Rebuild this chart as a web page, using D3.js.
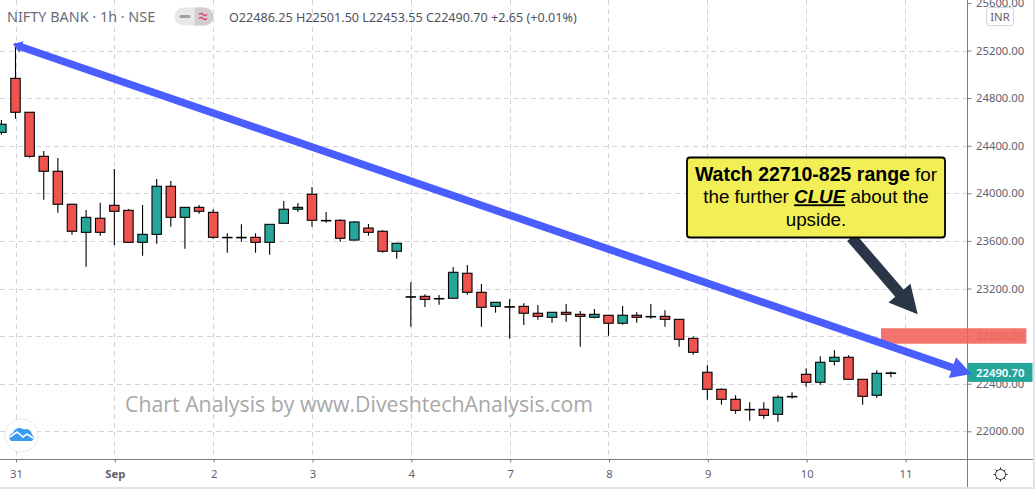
<!DOCTYPE html>
<html><head><meta charset="utf-8">
<script src="https://cdn.jsdelivr.net/npm/d3@7/dist/d3.min.js"></script>
<style>
html,body{margin:0;padding:0;background:#fff;overflow:hidden}
svg{display:block}
</style></head><body>
<svg id="c" width="1035" height="489" font-family="Noto Sans, sans-serif"></svg>
<script>
// ---- data (hourly candles, first one is bar -1) ----
const barIndex = d3.range(-1, 63);
const opens = [24512,24966,24681,24311,24185,23908,23672,23790,23899,23857,23588,23655,24059,23798,23882,23840,23630,23630,23630,23588,23748,23866,23992,23772,23773,23607,23708,23681,23513,23131,23134,23116,23118,23328,23168,23050,23047,23050,22992,22958,23000,22983,22958,22975,22908,22975,22965,22966,22941,22781,22496,22353,22269,22184,22185,22143,22293,22479,22412,22588,22622,22437,22303,22486.25];
const highs = [24616,25263,24681,24355,24297,23908,23860,23921,24204,23866,23902,24120,24103,23882,23902,23866,23664,23739,23664,23739,23935,23918,24053,23843,23781,23762,23742,23690,23580,23252,23151,23145,23381,23397,23238,23084,23112,23076,23061,23000,23070,23011,23028,22975,23053,23000,23070,23017,22941,22798,22555,22361,22303,22244,22244,22303,22328,22529,22630,22681,22639,22437,22513,22501.5];
const lows = [24492,24627,24299,23946,23837,23652,23383,23644,23566,23588,23476,23576,23719,23534,23828,23618,23501,23593,23501,23484,23748,23843,23719,23753,23593,23605,23644,23501,23450,22879,23045,23064,23118,23148,22879,22997,22778,22893,22938,22913,22921,22711,22950,22803,22896,22913,22946,22879,22711,22644,22266,22224,22148,22089,22106,22081,22274,22375,22392,22555,22437,22224,22282,22453.55];
const closes = [24580,24681,24311,24185,23908,23681,23798,23672,23849,23588,23655,24059,23798,23882,23849,23630,23626,23626,23588,23739,23866,23882,23773,23768,23622,23759,23672,23513,23580,23127,23109,23112,23336,23168,23042,23084,23043,22992,22966,23000,22983,22966,22983,22908,22975,22958,22961,22941,22773,22664,22353,22269,22176,22180,22134,22286,22289,22412,22580,22622,22437,22294,22487,22490.7];
const priceTicks = [22000,22400,22800,23200,23600,24000,24400,24800,25200,25600];
const dayTickBars = [0,7,14,21,28,35,42,49,56,63];
const dayTickLabels = ["31","Sep","2","3","4","7","8","9","10","11"];
const lastPrice = 22490.70;
const zoneBars = [61.3,71.6], zonePrices = [22866,22736];
const trendBars = [-0.18,67.7], trendPrices = [25254,22481];
const pointerBars = [59.2,63.9], pointerPrices = [23630,22983];
const legendText = "O22486.25 H22501.50 L22453.55 C22490.70 +2.65 (+0.01%)";

const svg = d3.select("#c");
const x = d3.scaleLinear().domain([0,63]).range([15.5,905]);
const y = d3.scaleLinear().domain([22000,25200]).range([431.3,50.5]);
const plotR = 967.5, plotB = 459.5;

svg.append("rect").attr("x",1033).attr("y",0).attr("width",2).attr("height",489).attr("fill","#e0e3eb");
svg.append("rect").attr("x",0).attr("y",487).attr("width",1035).attr("height",2).attr("fill","#e0e3eb");

// grid
const grid = svg.append("g");
grid.selectAll(".h").data(priceTicks.slice(0,-1)).join("line")
 .attr("x1",0).attr("x2",plotR).attr("y1",d=>Math.round(y(d))+.5).attr("y2",d=>Math.round(y(d))+.5);
grid.selectAll(".v").data(dayTickBars).join("line")
 .attr("y1",0).attr("y2",plotB).attr("x1",d=>Math.round(x(d))+.5).attr("x2",d=>Math.round(x(d))+.5);
grid.selectAll("line").attr("stroke","#d1d4dc").attr("stroke-dasharray","5,4").attr("stroke-width",1);

// candles
const bw = 9.4;
const candles = svg.append("g").selectAll("g").data(barIndex).join("g");
candles.append("line").attr("x1",i=>x(i)).attr("x2",i=>x(i))
 .attr("y1",i=>y(highs[i+1])).attr("y2",i=>y(lows[i+1])).attr("stroke","#000").attr("stroke-width",1.1);
candles.append("rect").attr("x",i=>x(i)-bw/2).attr("width",bw)
 .attr("y",i=>y(Math.max(opens[i+1],closes[i+1])))
 .attr("height",i=>Math.abs(y(opens[i+1])-y(closes[i+1])))
 .attr("fill",i=>closes[i+1]>opens[i+1]?"#26a69a":"#ef5350")
 .attr("stroke","#000").attr("stroke-width",1.1);

// axes
const yAxis = svg.append("g").attr("transform",`translate(${plotR},0)`)
 .call(d3.axisRight(y).tickValues(priceTicks).tickSize(4).tickPadding(4.5).tickFormat(d3.format(".2f")));
yAxis.attr("font-family",null).attr("font-size",null);
yAxis.select(".domain").remove();
yAxis.selectAll("line").attr("stroke","#787b86");
yAxis.selectAll("text").attr("fill","#5f6270").attr("font-size",11.3);

const xAxis = svg.append("g").attr("transform",`translate(0.5,${plotB})`)
 .call(d3.axisBottom(x).tickValues(dayTickBars).tickSize(3).tickPadding(7).tickFormat((d,i)=>dayTickLabels[i]));
xAxis.attr("font-family",null).attr("font-size",null);
xAxis.select(".domain").remove();
xAxis.selectAll("line").attr("stroke","#787b86");
xAxis.selectAll("text").attr("fill","#5f6270").attr("font-size",11.3)
 .attr("font-weight",(d,i)=>dayTickLabels[i]==="Sep"?700:400);
svg.append("line").attr("x1",0).attr("x2",1033).attr("y1",plotB).attr("y2",plotB).attr("stroke","#787b86");
svg.append("line").attr("x1",plotR).attr("x2",plotR).attr("y1",0).attr("y2",487).attr("stroke","#787b86");

// zone
svg.append("rect").attr("x",x(zoneBars[0])).attr("width",x(zoneBars[1])-x(zoneBars[0]))
 .attr("y",y(zonePrices[0])).attr("height",y(zonePrices[1])-y(zonePrices[0]))
 .attr("fill","#f2655c").attr("fill-opacity",.9);

// last price label
svg.append("rect").attr("x",plotR).attr("y",y(lastPrice)-10).attr("width",65).attr("height",19).attr("fill","#26a69a");
svg.append("text").attr("x",976).attr("y",y(lastPrice)+4).attr("fill","#fff").attr("font-size",11.3)
 .attr("font-weight",600).text(d3.format(".2f")(lastPrice));

function arrowPath(p0,p1,shaft,headLen,headHalf,startFlare){
 const dx=p1[0]-p0[0],dy=p1[1]-p0[1],L=Math.hypot(dx,dy),ux=dx/L,uy=dy/L,nx=-uy,ny=ux;
 const at=(d,o)=>[p0[0]+ux*d+nx*o,p0[1]+uy*d+ny*o];
 const s=shaft/2;
 const pts=[];
 if(startFlare){pts.push(at(0,0),at(9,startFlare),at(9,s));} else pts.push(at(0,s));
 pts.push(at(L-headLen,s),at(L-headLen,headHalf),at(L,0),at(L-headLen,-headHalf),at(L-headLen,-s));
 if(startFlare){pts.push(at(9,-s),at(9,-startFlare));} else pts.push(at(0,-s));
 return d3.line()(pts)+"Z";
}
const pt = (b,p)=>[x(b),y(p)];
// trend arrow
svg.append("path").attr("d",arrowPath(pt(trendBars[0],trendPrices[0]),pt(trendBars[1],trendPrices[1]),7.6,20,11,6))
 .attr("fill","#4a5dff");
// pointer arrow
svg.append("path").attr("d",arrowPath(pt(pointerBars[0],pointerPrices[0]),pt(pointerBars[1],pointerPrices[1]),11,28,14.5,0))
 .attr("fill","#2a3547");

// callout
svg.append("rect").attr("x",687).attr("y",157.5).attr("width",258).attr("height",80).attr("rx",3)
 .attr("fill","#f2ef56").attr("stroke","#000").attr("stroke-width",1.8);
const call = svg.append("g").attr("font-family","Liberation Sans, Arial, sans-serif").attr("font-size",18.8)
 .attr("fill","#000").attr("text-anchor","middle");
let t1=call.append("text").attr("x",816).attr("y",181);
t1.append("tspan").attr("font-weight",700).attr("font-size",19.5).text("Watch 22710-825 range");
t1.append("tspan").text(" for");
let t2=call.append("text").attr("x",816).attr("y",203.3);
t2.append("tspan").text("the further ");
t2.append("tspan").attr("font-weight",700).attr("font-style","italic").attr("text-decoration","underline").text("CLUE");
t2.append("tspan").text(" about the");
call.append("text").attr("x",816).attr("y",226).text("upside.");

// header
svg.append("text").attr("x",7).attr("y",22).attr("font-size",14.4).attr("fill","#6a6d78").text("NIFTY BANK · 1h · NSE");
svg.append("rect").attr("x",174.5).attr("y",7.5).attr("width",39).attr("height",18).attr("rx",9).attr("fill","#e8e8e8");
svg.append("path").attr("d","M194.5,7.5h10a9,9 0 0 1 0,18h-10Z").attr("fill","#d2cdd0");
svg.append("line").attr("x1",181).attr("x2",189).attr("y1",16.5).attr("y2",16.5).attr("stroke","#a0a0a0").attr("stroke-width",3).attr("stroke-linecap","round");
svg.append("path").attr("d","M199,14.5q2,-2 4,0t4,0M199,18.5q2,-2 4,0t4,0").attr("fill","none").attr("stroke","#e0457b").attr("stroke-width",1.5);
svg.append("text").attr("x",229).attr("y",22).attr("font-size",12.6).attr("fill","#50535e").text(legendText);

// INR badge
svg.append("rect").attr("x",986.5).attr("y",7.5).attr("width",27).attr("height",18).attr("rx",3).attr("fill","#fff").attr("stroke","#d1d4dc");
svg.append("text").attr("x",1000).attr("y",20.5).attr("text-anchor","middle").attr("font-size",11.3).attr("fill","#5f6270").text("INR");

// watermark
svg.append("text").attr("x",125).attr("y",412).attr("font-size",21.3).attr("fill","#a8a8a8")
 .attr("font-family","Open Sans, sans-serif").text("Chart Analysis by www.DiveshtechAnalysis.com");

// logo
svg.append("circle").attr("cx",21.5).attr("cy",435.5).attr("r",16.5).attr("fill","#fff").attr("stroke","#e8e8e8");
svg.append("path").attr("d","M11,441a4.5,4.5 0 0 1 2,-8a7,7 0 0 1 11,-3.5a6,6 0 0 1 8,5a4,4 0 0 1 0,6.5Z").attr("fill","#3a9bef");
svg.append("path").attr("d","M10,437l7,-5l6,5l4,-3l6,4").attr("fill","none").attr("stroke","#fff").attr("stroke-width",1.6);

// gear
const gear=svg.append("g").attr("transform","translate(1000.5,474.5)").attr("fill","none").attr("stroke","#30333c").attr("stroke-width",1);
gear.append("circle").attr("r",5);
d3.range(8).forEach(k=>{const a=k*Math.PI/4;gear.append("line").attr("x1",5*Math.cos(a)).attr("y1",5*Math.sin(a)).attr("x2",7*Math.cos(a)).attr("y2",7*Math.sin(a));});
</script>
</body></html>
